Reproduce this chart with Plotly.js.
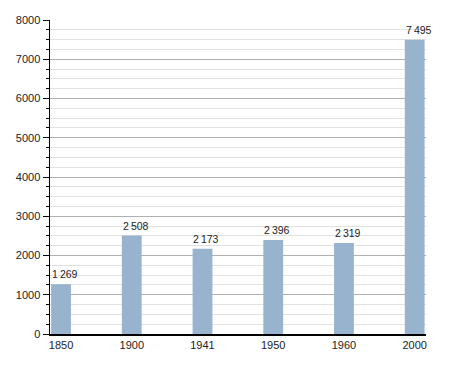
<!DOCTYPE html>
<html>
<head>
<meta charset="utf-8">
<script src="https://cdn.plot.ly/plotly-3.0.1.min.js"></script>
<style>html,body{margin:0;padding:0;background:#fff;}#chart{width:455px;height:373px;}</style>
</head>
<body>
<div id="chart"></div>
<script>
const years = ["1850", "1900", "1941", "1950", "1960", "2000"];
const population = [1269, 2508, 2173, 2396, 2319, 7495];
const yTicks = [0, 1000, 2000, 3000, 4000, 5000, 6000, 7000, 8000];

const fmt = v => String(v).replace(/\B(?=(\d{3})+(?!\d))/g, '\u2009');

const trace = {
  type: 'bar',
  x: years,
  y: population,
  marker: {color: '#98b3cd'},
  width: 0.28,
  hoverinfo: 'none'
};

const labels = years.map((yr, i) => ({
  x: i,
  y: population[i],
  xref: 'x',
  yref: 'y',
  text: fmt(population[i]),
  showarrow: false,
  xanchor: 'left',
  yanchor: 'bottom',
  xshift: -11,
  yshift: 2,
  font: {family: 'Liberation Sans, Arial, sans-serif', size: 10.5, color: '#222'}
}));

const layout = {
  width: 455,
  height: 373,
  margin: {l: 50, r: 29, t: 20, b: 39},
  paper_bgcolor: '#fff',
  plot_bgcolor: '#fff',
  showlegend: false,
  font: {family: 'Liberation Sans, Arial, sans-serif', size: 11, color: '#222'},
  annotations: labels,
  xaxis: {
    type: 'category',
    range: [-0.156, 5.16],
    showgrid: false,
    ticks: '',
    showline: true,
    linecolor: '#000',
    linewidth: 1.5,
    tickfont: {size: 11, color: '#222'},
    fixedrange: true
  },
  yaxis: {
    range: [0, 8000],
    tickvals: yTicks,
    ticktext: yTicks.map(String),
    showgrid: true,
    gridcolor: '#b0b0b0',
    gridwidth: 1,
    zeroline: false,
    showline: true,
    linecolor: '#000',
    linewidth: 1.5,
    ticks: 'outside',
    ticklen: 6,
    tickcolor: '#000',
    tickfont: {size: 11, color: '#222'},
    minor: {dtick: 250, showgrid: true, gridcolor: '#e2e2e2', gridwidth: 1, ticks: 'outside', ticklen: 3, tickcolor: '#000'},
    fixedrange: true
  }
};

Plotly.newPlot('chart', [trace], layout, {displayModeBar: false, staticPlot: true});
</script>
</body>
</html>
